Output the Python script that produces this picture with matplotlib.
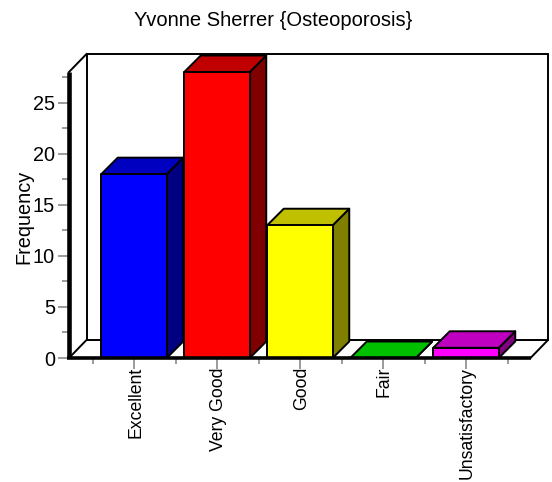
import matplotlib
matplotlib.use("Agg")
import matplotlib.pyplot as plt
from matplotlib.patches import Polygon
from matplotlib.transforms import ScaledTranslation

plt.rcParams['font.family'] = ['Liberation Sans', 'DejaVu Sans']

categories = ["Excellent", "Very Good", "Good", "Fair", "Unsatisfactory"]
frequency = [18, 28, 13, 0, 1]
front_colors = ["#0000ff", "#ff0000", "#ffff00", "#00ff00", "#ff00ff"]
top_colors = ["#0000c0", "#c00000", "#c0c000", "#00c000", "#c000c0"]
side_colors = ["#000080", "#800000", "#808000", "#008000", "#800080"]
y_major = [0, 5, 10, 15, 20, 25]
y_minor = [2.5, 7.5, 12.5, 17.5, 22.5, 27.5]
title = "Yvonne Sherrer {Osteoporosis}"
ylabel = "Frequency"

W, H = 552, 482
fig = plt.figure(figsize=(W / 100, H / 100), dpi=100)
L, R, B, T = 69, 530.5, 358, 72
ax = fig.add_axes([L / W, 1 - B / H, (R - L) / W, (B - T) / H])

SPACING = 83.0   # px per category
UNIT = (B - T) / 28.0   # px per frequency unit
xmin = (L - 134) / SPACING
xmax = (R - 134) / SPACING
ax.set_xlim(xmin, xmax)
ax.set_ylim(0, 28)
for s in ax.spines.values():
    s.set_visible(False)

px = lambda p: p / SPACING
py = lambda p: p / UNIT
wdx, wdy = px(17.5), py(18)
bdx, bdy = px(16.5), py(16.5)
bw = px(65.5)
lw = 1.4

# floor and back wall
ax.add_patch(Polygon([(xmin, 0), (xmin + wdx, wdy), (xmax + wdx, wdy), (xmax, 0)],
                     closed=True, fc="white", ec="black", lw=lw, clip_on=False, zorder=1))
ax.add_patch(Polygon([(xmin + wdx, wdy), (xmin + wdx, 28 + wdy), (xmax + wdx, 28 + wdy), (xmax + wdx, wdy)],
                     closed=True, fc="white", ec="black", lw=lw, clip_on=False, zorder=1, joinstyle="miter"))
ax.plot([xmin, xmin + wdx], [28, 28 + wdy], color="black", lw=lw, clip_on=False, zorder=1)

# bars
for i, v in enumerate(frequency):
    x0 = i - bw / 2
    x1 = i + bw / 2
    z = 2 + i
    kw = dict(closed=True, ec="black", lw=lw, clip_on=False, zorder=z, joinstyle="round")
    ax.add_patch(Polygon([(x1, 0), (x1 + bdx, bdy), (x1 + bdx, v + bdy), (x1, v)], fc=side_colors[i], **kw))
    ax.add_patch(Polygon([(x0, v), (x0 + bdx, v + bdy), (x1 + bdx, v + bdy), (x1, v)], fc=top_colors[i], **kw))
    ax.add_patch(Polygon([(x0, 0), (x1, 0), (x1, v), (x0, v)], fc=front_colors[i], **kw))

# front axes
ax.plot([xmin, xmin], [0, 28], color="black", lw=3.3, clip_on=False, zorder=20, solid_capstyle="butt")
ax.plot([xmin - px(2), xmax], [0, 0], color="black", lw=2.6, clip_on=False, zorder=20, solid_capstyle="butt")

ax.set_xticks(range(len(categories)))
ax.set_xticklabels(categories, rotation=90, fontsize=12.7, color="black")
ax.set_xticks([i - 0.5 for i in range(len(categories) + 1)], minor=True)
ax.set_yticks(y_major)
ax.set_yticklabels([str(v) for v in y_major], fontsize=14.3)
ax.set_yticks(y_minor, minor=True)
ax.tick_params(axis="x", which="major", length=8, width=1.1, color="#808080", pad=-1.5)
ax.tick_params(axis="x", which="minor", length=4.5, width=1.1, color="#808080")
ax.tick_params(axis="y", which="major", length=8, width=1.1, color="#808080", pad=2)
ax.tick_params(axis="y", which="minor", length=4.8, width=1.1, color="#808080")
shift = ScaledTranslation(1.5 / 100, 0, fig.dpi_scale_trans)
for lab in ax.get_xticklabels():
    lab.set_transform(lab.get_transform() + shift)

fig.text(273.5 / W, 1 - 20 / H, title, ha="center", va="center", fontsize=14.5, color="black")
fig.text(24 / W, 1 - 217 / H, ylabel, ha="center", va="center", rotation=90, fontsize=14.3, color="black")

fig.savefig("out.png", dpi=100)
